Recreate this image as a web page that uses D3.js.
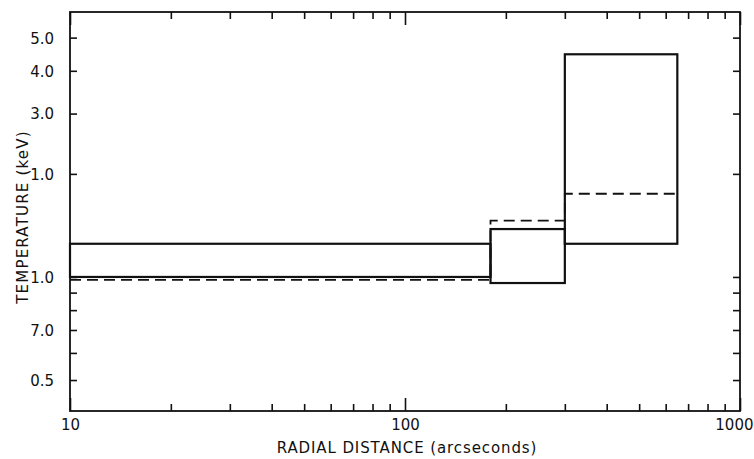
<!DOCTYPE html>
<html>
<head>
<meta charset="utf-8">
<script src="https://cdn.jsdelivr.net/npm/d3@7"></script>
<style>
  html, body { margin: 0; padding: 0; background: #fff; }
  svg { display: block; }
  text { font-family: "DejaVu Sans", sans-serif; fill: #111; }
</style>
</head>
<body>
<script>
// ---- data ----
const binStart = [10, 180, 300];          // arcsec
const binEnd   = [180, 300, 650];         // arcsec
const tempLow  = [1.0, 0.96, 1.25];       // keV, solid box bottom
const tempHigh = [1.25, 1.38, 4.47];      // keV, solid box top
const tempDashed = [0.98, 1.46, 1.75];    // keV, dashed best fit

const yTickValues = [5, 4, 3, 2, 1, 0.7, 0.5];
const yTickLabels = ["5.0", "4.0", "3.0", "1.0", "1.0", "7.0", "0.5"];
const yMinorTicks = [0.9, 0.8, 0.6];
const xTickValues = [10, 100, 1000];
const xTickLabels = ["10", "100", "1000"];
const xMinorTicks = [20, 30, 40, 50, 60, 70, 80, 90, 200, 300, 400, 500, 600, 700, 800, 900];

// ---- layout ----
const W = 754, H = 459;
const mLeft = 70, mRight = 740, mTop = 12, mBottom = 411;

const svg = d3.select("body").append("svg").attr("width", W).attr("height", H);

const x = d3.scaleLog().domain([10, 1000]).range([mLeft, mRight]);
const y = d3.scaleLog().domain([0.406, 5.94]).range([mBottom, mTop]);

// ---- axes (ticks inward) ----
const tickLen = 7;
function styleAxis(g) {
  g.select(".domain").remove();
  g.selectAll(".tick line").attr("stroke", "#111").attr("stroke-width", 1.6);
  g.selectAll(".tick text").style("font-size", "15px").attr("fill", "#111");
}

// left
svg.append("g").attr("transform", `translate(${mLeft},0)`)
  .call(d3.axisLeft(y).tickValues(yTickValues).tickSize(-tickLen)
    .tickFormat((d, i) => yTickLabels[i]))
  .call(styleAxis)
  .call(g => g.selectAll(".tick text").attr("x", -16).attr("dy", "0.36em"));
svg.append("g").attr("transform", `translate(${mLeft},0)`)
  .call(d3.axisLeft(y).tickValues(yMinorTicks).tickSize(-tickLen).tickFormat(""))
  .call(styleAxis);
// right
svg.append("g").attr("transform", `translate(${mRight},0)`)
  .call(d3.axisRight(y).tickValues(yTickValues.concat(yMinorTicks)).tickSize(-tickLen).tickFormat(""))
  .call(styleAxis);

// bottom
svg.append("g").attr("transform", `translate(0,${mBottom})`)
  .call(d3.axisBottom(x).tickValues(xMinorTicks).tickSize(-tickLen).tickFormat(""))
  .call(styleAxis);
svg.append("g").attr("transform", `translate(0,${mBottom})`)
  .call(d3.axisBottom(x).tickValues(xTickValues).tickSize(-13)
    .tickFormat((d, i) => xTickLabels[i]))
  .call(styleAxis)
  .call(g => g.selectAll(".tick text").attr("y", 8).attr("dy", "0.71em"))
  .call(g => g.selectAll(".tick").filter(d => d === 1000).select("text")
    .attr("text-anchor", "end").attr("x", 13));
// top
svg.append("g").attr("transform", `translate(0,${mTop})`)
  .call(d3.axisTop(x).tickValues(xMinorTicks).tickSize(-tickLen).tickFormat(""))
  .call(styleAxis);
svg.append("g").attr("transform", `translate(0,${mTop})`)
  .call(d3.axisTop(x).tickValues(xTickValues).tickSize(-13).tickFormat(""))
  .call(styleAxis);

// frame
svg.append("rect")
  .attr("x", mLeft).attr("y", mTop)
  .attr("width", mRight - mLeft).attr("height", mBottom - mTop)
  .attr("fill", "none").attr("stroke", "#111").attr("stroke-width", 1.8);

// ---- dashed best-fit step line ----
const dashPts = binStart.map((s, i) => [s, tempDashed[i]]);
dashPts.push([binEnd[binEnd.length - 1], tempDashed[tempDashed.length - 1]]);
svg.append("path")
  .datum(dashPts)
  .attr("d", d3.line().x(d => x(d[0])).y(d => y(d[1])).curve(d3.curveStepAfter))
  .attr("fill", "none").attr("stroke", "#111").attr("stroke-width", 1.8)
  .attr("stroke-dasharray", "11,6");

// ---- solid boxes ----
svg.append("g").selectAll("rect")
  .data(binStart.map((s, i) => ({ s, e: binEnd[i], lo: tempLow[i], hi: tempHigh[i] })))
  .join("rect")
  .attr("x", d => x(d.s)).attr("width", d => x(d.e) - x(d.s))
  .attr("y", d => y(d.hi)).attr("height", d => y(d.lo) - y(d.hi))
  .attr("fill", "none").attr("stroke", "#111").attr("stroke-width", 2.2);

// ---- titles ----
svg.append("text")
  .attr("x", 407).attr("y", 453)
  .attr("text-anchor", "middle").style("font-size", "15px")
  .style("letter-spacing", "0.9px")
  .text("RADIAL DISTANCE (arcseconds)");

svg.append("text")
  .attr("transform", `translate(28,217) rotate(-90)`)
  .attr("text-anchor", "middle").style("font-size", "15px")
  .style("letter-spacing", "1.2px")
  .text("TEMPERATURE (keV)");
</script>
</body>
</html>
